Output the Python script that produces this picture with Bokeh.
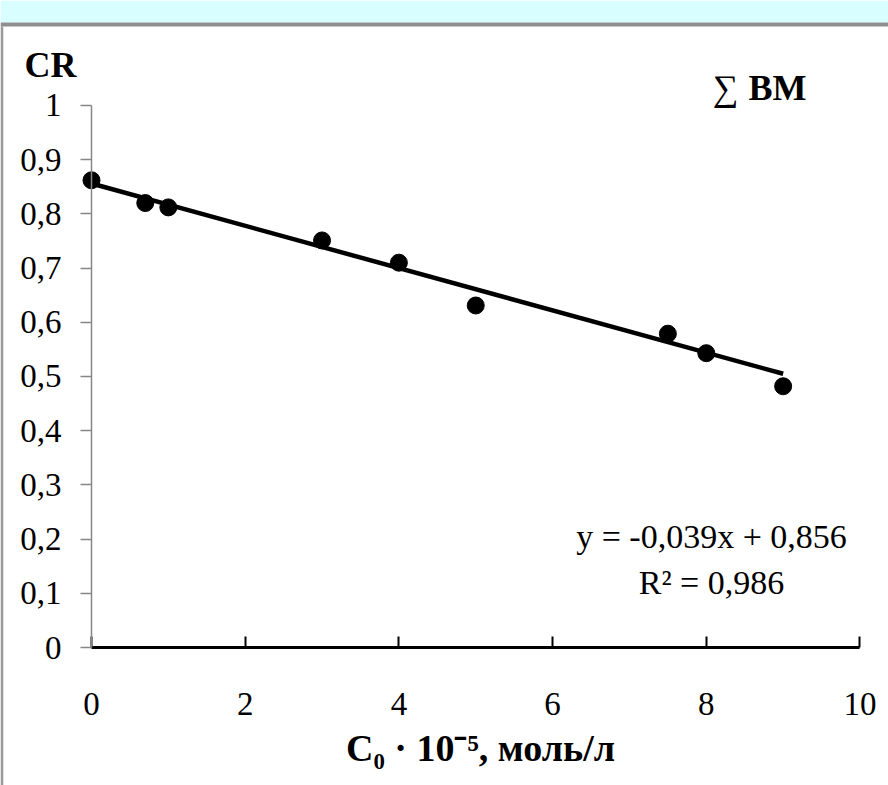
from bokeh.plotting import figure
from bokeh.models import Label, FixedTicker, Range1d, BoxAnnotation
from bokeh.embed import file_html
from bokeh.resources import INLINE

# ---- data ----
conc = [0, 0.7, 1, 3, 4, 5, 7.5, 8, 9]
cr = [0.862, 0.82, 0.812, 0.751, 0.71, 0.631, 0.579, 0.543, 0.482]
trend_slope = -0.039
trend_intercept = 0.856
trend_x = [0, 9]
x_ticks = [0, 2, 4, 6, 8, 10]
x_tick_labels = ["0", "2", "4", "6", "8", "10"]
y_ticks = [0, 0.1, 0.2, 0.3, 0.4, 0.5, 0.6, 0.7, 0.8, 0.9, 1]
y_tick_labels = ["0", "0,1", "0,2", "0,3", "0,4", "0,5", "0,6", "0,7", "0,8", "0,9", "1"]
eq_text = "y = -0,039x + 0,856"
r2_text = "R² = 0,986"
x_title = "C₀ · 10⁻⁵, моль/л"
y_title = "CR"
sum_sign = "∑"
series_title = "BM"

FONT = "Liberation Serif"
GREY = "#868686"

p = figure(width=888, height=785,
           x_range=Range1d(-1.184, 10.371), y_range=Range1d(-0.2546, 1.1937),
           toolbar_location=None, output_backend="svg",
           min_border_left=0, min_border_right=0, min_border_top=0, min_border_bottom=0,
           background_fill_color="white", border_fill_color="white",
           outline_line_color=None)
p.grid.visible = False

# decorative window frame (top band + left border)
p.add_layout(BoxAnnotation(bottom=1.1531, fill_color="#d9feff", fill_alpha=1.0, line_color=None))
p.add_layout(BoxAnnotation(bottom=1.1458, top=1.1531, fill_color="#8f8f8f", fill_alpha=1.0,
                           line_color=None))
p.add_layout(BoxAnnotation(right=-1.148, top=1.1458, fill_color="#9a9a9a", fill_alpha=1.0,
                           line_color=None))

# x axis, crossing at y = 0
xa = p.xaxis[0]
xa.fixed_location = 0
xa.ticker = FixedTicker(ticks=x_ticks)
xa.major_label_overrides = {t: s for t, s in zip(x_ticks, x_tick_labels)}
xa.bounds = (0, 10)
xa.axis_line_color = "black"
xa.axis_line_width = 3
xa.major_tick_line_color = "black"
xa.major_tick_line_width = 2
xa.major_tick_in = 11
xa.major_tick_out = 0
xa.minor_tick_line_color = None
xa.major_label_text_font = FONT
xa.major_label_text_font_size = "33px"
xa.major_label_text_color = "black"
xa.major_label_standoff = 45

# y axis, crossing at x = 0
ya = p.yaxis[0]
ya.fixed_location = 0
ya.ticker = FixedTicker(ticks=y_ticks)
ya.major_label_overrides = {t: s for t, s in zip(y_ticks, y_tick_labels)}
ya.bounds = (0, 1)
ya.axis_line_color = GREY
ya.axis_line_width = 1.5
ya.major_tick_line_color = GREY
ya.major_tick_line_width = 1.5
ya.major_tick_in = 0
ya.major_tick_out = 11
ya.minor_tick_line_color = None
ya.major_label_text_font = FONT
ya.major_label_text_font_size = "33px"
ya.major_label_text_color = "black"
ya.major_label_standoff = 19

# data
trend_y = [trend_slope * x + trend_intercept for x in trend_x]
p.line(trend_x, trend_y, line_color="black", line_width=4.5)
p.scatter(conc, cr, size=17, marker="circle", fill_color="black", line_color="black")

def lab(x, y, text, size, bold=False, align="center"):
    p.add_layout(Label(x=x, y=y, text=text, text_font=FONT, text_font_size=size,
                       text_font_style="bold" if bold else "normal",
                       text_color="black", text_align=align, text_baseline="middle"))

lab(-0.534, 1.0756, y_title, "36px", bold=True)
lab(8.25, 1.033, sum_sign, "36px")
lab(8.549, 1.033, series_title, "36px", bold=True, align="left")
lab(8.068, 0.2048, eq_text, "34px")
lab(8.068, 0.12, r2_text, "34px")
lab(5.062, -0.1863, x_title, "38px", bold=True)

open("out.html", "w").write(file_html(p, INLINE))
